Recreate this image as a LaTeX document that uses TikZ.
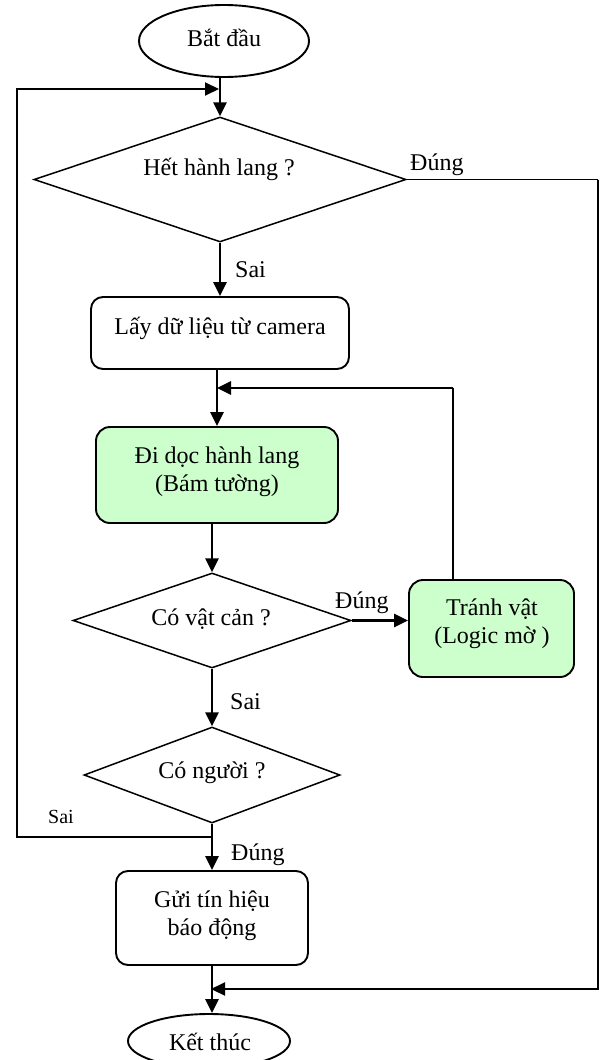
\documentclass[tikz,border=0pt]{standalone}
\usepackage{fontspec}
\setmainfont{Liberation Serif}
\usetikzlibrary{shapes.geometric,arrows.meta}
\definecolor{lgreen}{HTML}{CCFFCC}
\begin{document}
\begin{tikzpicture}[x=1pt,y=-1pt,
  boxline/.style={draw=black,line width=1.9pt},
  term/.style={boxline,ellipse,inner sep=0pt},
  dec/.style={draw=black,line width=1.5pt,diamond,inner sep=0pt},
  proc/.style={boxline,rectangle,rounded corners=12pt,inner sep=0pt},
  greenfill/.style={fill=lgreen,rounded corners=14pt},
  txt/.style={font=\fontsize{24}{28.5}\selectfont,inner sep=0pt,anchor=base},
  lbl/.style={font=\fontsize{24}{28}\selectfont,inner sep=0pt,anchor=base west},
  flow/.style={line width=2.6pt,-{Triangle[length=14pt,width=13pt]}},
  thinflow/.style={line width=2pt,-{Triangle[length=14pt,width=13pt]}},
  plain/.style={line width=1.6pt},
]
\useasboundingbox (0,0) rectangle (600,1060);

% shapes
\node[term, minimum width=170pt, minimum height=72pt] (start) at (224,41) {};
\node[dec, minimum width=372pt, minimum height=125pt] (d1) at (220,179.5) {};
\node[proc, minimum width=258pt, minimum height=72pt] (lay) at (220,333) {};
\node[proc, greenfill, minimum width=242pt, minimum height=96pt] (walk) at (217,475) {};
\node[dec, minimum width=278pt, minimum height=95pt] (d2) at (212,620.5) {};
\node[proc, greenfill, minimum width=165pt, minimum height=97pt] (avoid) at (491.5,628.5) {};
\node[dec, minimum width=256pt, minimum height=96pt] (d3) at (212,775) {};
\node[proc, minimum width=192pt, minimum height=94pt] (alarm) at (212,918) {};
\node[term, minimum width=162pt, minimum height=54pt] (stop) at (209,1041) {};

% texts
\node[txt] (tstart) at (224,46) {Bắt đầu};
\node[txt] (td1) at (219,175) {Hết hành lang ?};
\node[txt] (tlay) at (220,334) {Lấy dữ liệu từ camera};
\node[txt] (twalka) at (217,463) {Đi dọc hành lang};
\node[txt] (twalkb) at (217,491) {(Bám tường)};
\node[txt] (td2) at (211,625) {Có vật cản ?};
\node[txt] (tavoida) at (492,615) {Tránh vật};
\node[txt] (tavoidb) at (492,643) {(Logic mờ )};
\node[txt] (td3) at (212,778) {Có người ?};
\node[txt] (talarma) at (212,907) {Gửi tín hiệu};
\node[txt] (talarmb) at (212,935) {báo động};
\node[txt] (tstop) at (210,1050) {Kết thúc};

% labels
\node[lbl] (l1) at (410,170) {Đúng};
\node[lbl] (l2) at (235,277) {Sai};
\node[lbl] (l3) at (335,608) {Đúng};
\node[lbl] (l4) at (230,709) {Sai};
\node[lbl, font=\fontsize{20}{24}\selectfont] (l5) at (48,823) {Sai};
\node[lbl] (l6) at (231,860) {Đúng};

% junction coordinates
\coordinate (jtop) at (219,89);
\coordinate (jloop) at (217,388);
\coordinate (jsai) at (212,837);
\coordinate (jend) at (211,989);
\coordinate (lcol) at (17,500);
\coordinate (rcol) at (598,500);
\coordinate (rloop) at (453,388);

% connectors
\draw[flow] (d1.north |- start.south) -- (d1.north);
\draw[thinflow] (jsai) -| (lcol) |- (jtop);
\draw[flow] (d1.south) -- (lay.north);
\draw[flow] (walk.north |- lay.south) -- (walk.north);
\draw[plain] (avoid.north -| rloop) -- (rloop);
\draw[flow] (rloop) -- (jloop);
\draw[flow] (d2.north |- walk.south) -- (d2.north);
\draw[flow] (d2.east) -- (avoid.west |- d2.east);
\draw[flow] (d2.south) -- (d3.north);
\draw[flow] (d3.south) -- (alarm.north);
\draw[plain] (d1.east) -- (d1.east -| rcol);
\draw[thinflow] (d1.east -| rcol) |- (jend);
\draw[flow] (alarm.south) -- (alarm.south |- stop.north);
\end{tikzpicture}
\end{document}
